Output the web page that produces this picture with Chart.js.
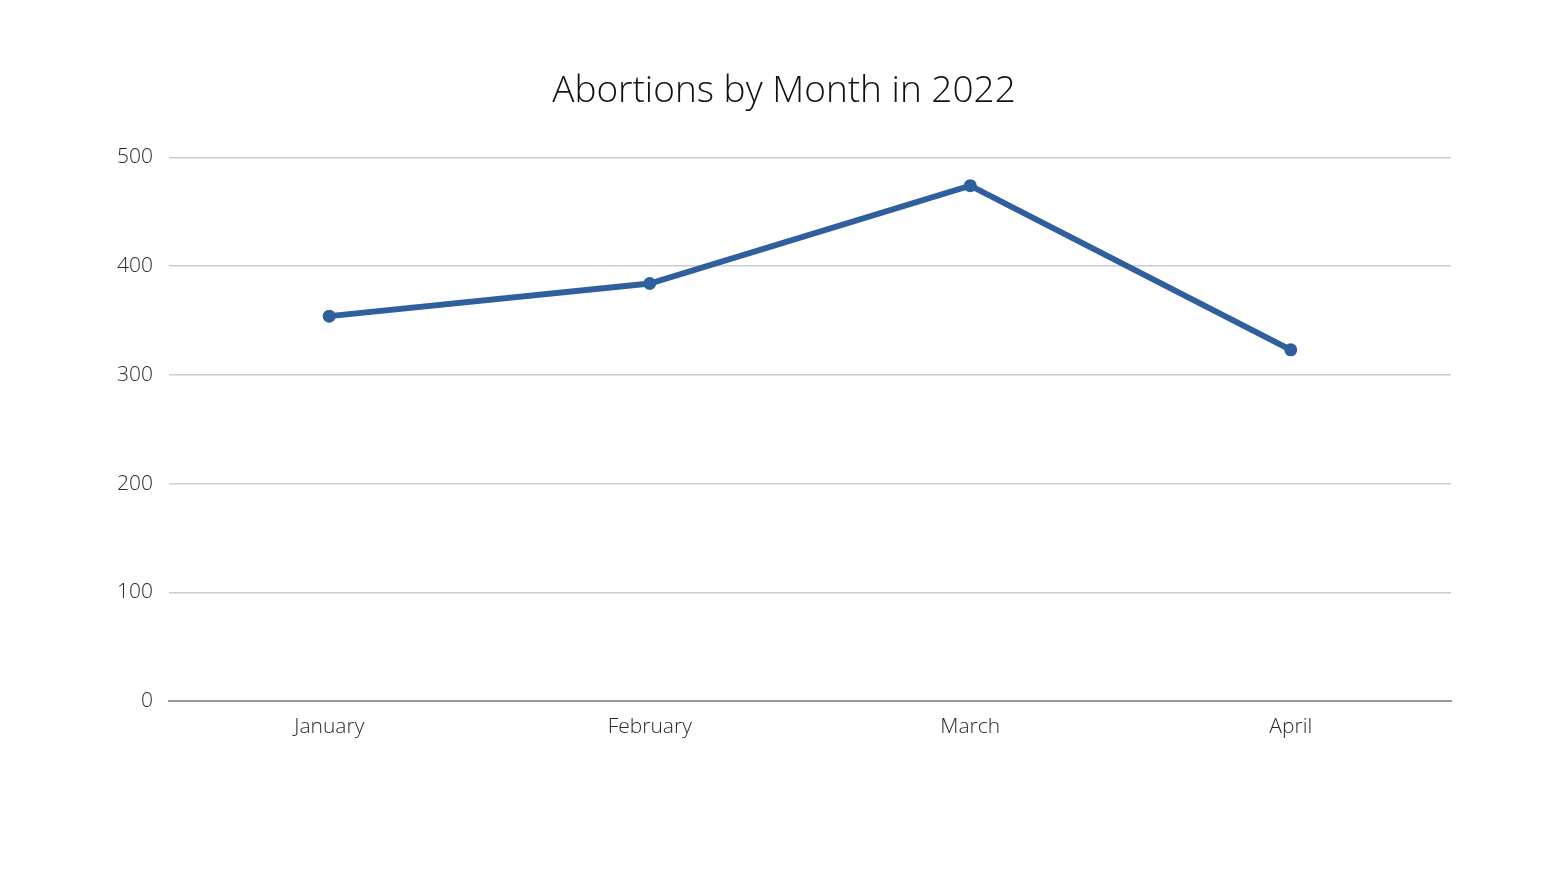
<!DOCTYPE html>
<html>
<head>
<meta charset="utf-8">
<script src="https://cdn.jsdelivr.net/npm/chart.js@4/dist/chart.umd.min.js"></script>
<style>
  html, body { margin: 0; padding: 0; background: #fff; }
  #wrap { width: 1568px; height: 882px; }
</style>
</head>
<body>
<div id="wrap"><canvas id="abortionChart" width="1568" height="882"></canvas></div>
<script>
const months = ['January', 'February', 'March', 'April'];
const abortions = [354, 384, 474, 323];
const yTicks = [0, 100, 200, 300, 400, 500];

const lineColor = '#2f5f9c';

document.addEventListener('DOMContentLoaded', () => {
    const ctx = document.getElementById('abortionChart');
    new Chart(ctx, {
        type: 'line',
        data: {
            labels: months,
            datasets: [{
                label: 'Abortions',
                data: abortions,
                borderColor: lineColor,
                backgroundColor: lineColor,
                borderWidth: 6,
                pointRadius: 6.5,
                pointHoverRadius: 6.5,
                pointBorderWidth: 0,
                tension: 0,
                fill: false
            }]
        },
        options: {
            responsive: false,
            animation: false,
            // symmetric padding keeps the title centred on the canvas
            layout: { padding: { left: 117, right: 117, top: 0, bottom: 0 } },
            scales: {
                x: {
                    offset: true,
                    grid: { display: false, drawTicks: false },
                    border: { color: '#999', width: 2 },
                    ticks: {
                        color: '#2a2a2a',
                        padding: 13,
                        font: { family: '"Open Sans"', size: 21, weight: 300 }
                    },
                    afterFit: (scale) => { scale.height = 181; }
                },
                y: {
                    min: 0,
                    max: 500,
                    afterBuildTicks: (scale) => { scale.ticks = yTicks.map(v => ({ value: v })); },
                    grid: {
                        color: '#cccccc',
                        lineWidth: 1.5,
                        drawTicks: false
                    },
                    border: { display: false },
                    ticks: {
                        color: '#2a2a2a',
                        padding: 16,
                        font: { family: '"Open Sans"', size: 21, weight: 300 }
                    },
                    afterFit: (scale) => { scale.width = 169 - 117; }
                }
            },
            plugins: {
                legend: { display: false },
                tooltip: { enabled: false },
                title: {
                    display: true,
                    text: 'Abortions by Month in 2022',
                    color: '#111',
                    font: { family: '"Open Sans"', size: 37, weight: 300 },
                    padding: { top: 69, bottom: 44 }
                }
            }
        }
    });
});
</script>
</body>
</html>
